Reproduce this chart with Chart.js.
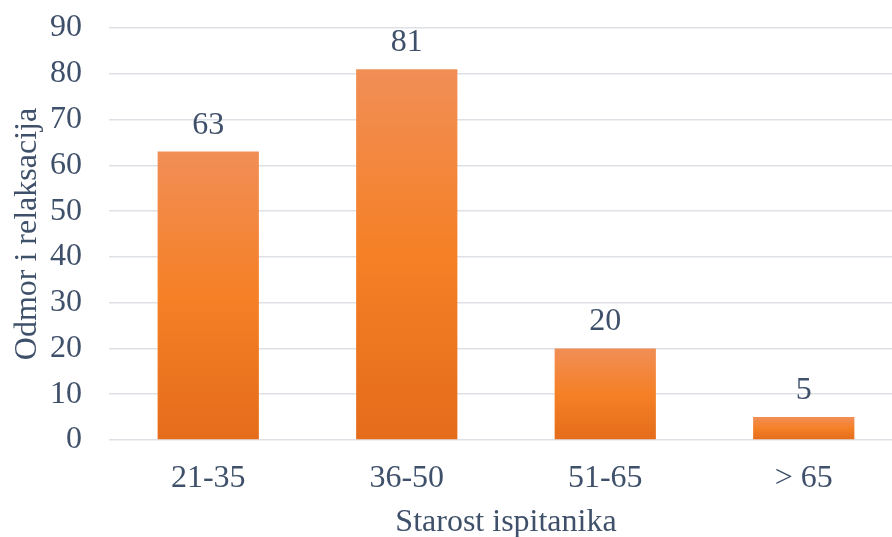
<!DOCTYPE html>
<html>
<head>
<meta charset="utf-8">
<script src="https://cdn.jsdelivr.net/npm/chart.js@4/dist/chart.umd.min.js"></script>
<style>
  html, body { margin: 0; padding: 0; background: #fff; overflow: hidden; }
  #wrap { width: 903px; height: 537px; position: relative; }
</style>
</head>
<body>
<div id="wrap"><canvas id="c"></canvas></div>
<script>
// Age groups and counts
const categories = ['21-35', '36-50', '51-65', '> 65'];
const values = [63, 81, 20, 5];
const yTicks = [0, 10, 20, 30, 40, 50, 60, 70, 80, 90];
const xTitle = 'Starost ispitanika';
const yTitle = 'Odmor i relaksacija';

const TEXT = '#3F506A';
const FONT = "'Liberation Serif', 'Times New Roman', serif";
const SIZE = 32;

// Vertical orange gradient spanning each bar from its top to its base
function barGradient(ctx) {
  const chart = ctx.chart;
  if (!chart.chartArea || ctx.raw == null) return '#F58025';
  const y = chart.scales.y;
  const top = y.getPixelForValue(ctx.raw);
  const base = y.getPixelForValue(0);
  if (!isFinite(top) || !isFinite(base) || top === base) return '#F58025';
  const g = chart.ctx.createLinearGradient(0, top, 0, base);
  g.addColorStop(0, '#F18E56');
  g.addColorStop(0.5, '#F58026');
  g.addColorStop(1, '#E46C1B');
  return g;
}

// Value labels above each bar
const valueLabels = {
  id: 'valueLabels',
  afterDatasetsDraw(chart) {
    const c = chart.ctx;
    const meta = chart.getDatasetMeta(0);
    c.save();
    c.fillStyle = TEXT;
    c.font = SIZE + 'px ' + FONT;
    c.textAlign = 'center';
    c.textBaseline = 'alphabetic';
    meta.data.forEach((el, i) => {
      c.fillText(String(chart.data.datasets[0].data[i]), el.x, el.y - 18);
    });
    c.restore();
  }
};

new Chart(document.getElementById('c'), {
  type: 'bar',
  data: {
    labels: categories,
    datasets: [{
      data: values,
      backgroundColor: barGradient,
      borderWidth: 0,
      categoryPercentage: 1,
      barPercentage: 0.51
    }]
  },
  options: {
    responsive: true,
    maintainAspectRatio: false,
    devicePixelRatio: 1,
    animation: false,
    layout: { padding: { top: 28, left: 0, right: 0, bottom: 0 } },
    plugins: {
      legend: { display: false },
      tooltip: { enabled: false }
    },
    scales: {
      x: {
        grid: { display: false, drawTicks: false },
        border: { display: false },
        ticks: { color: TEXT, font: { family: FONT, size: SIZE }, padding: 19 },
        title: {
          display: true, text: xTitle, color: TEXT,
          font: { family: FONT, size: SIZE, lineHeight: 1 },
          padding: { top: 0, bottom: -2 }
        },
        afterFit(scale) { scale.height = 97; }
      },
      y: {
        min: 0, max: 90,
        afterBuildTicks(scale) { scale.ticks = yTicks.map(v => ({ value: v })); },
        // invisible tick marks keep the labels clear of the plot edge
        grid: { color: '#DDE1E6', lineWidth: 1.5, drawTicks: true, tickLength: 27, tickColor: 'rgba(0,0,0,0)' },
        border: { display: false },
        ticks: { color: TEXT, font: { family: FONT, size: SIZE }, padding: 0 },
        title: {
          display: true, text: yTitle, color: TEXT,
          font: { family: FONT, size: SIZE, lineHeight: 1.2 },
          padding: { top: 8, bottom: 0 }
        },
        afterFit(scale) { scale.width = 109; }
      }
    }
  },
  plugins: [valueLabels]
});
</script>
</body>
</html>
